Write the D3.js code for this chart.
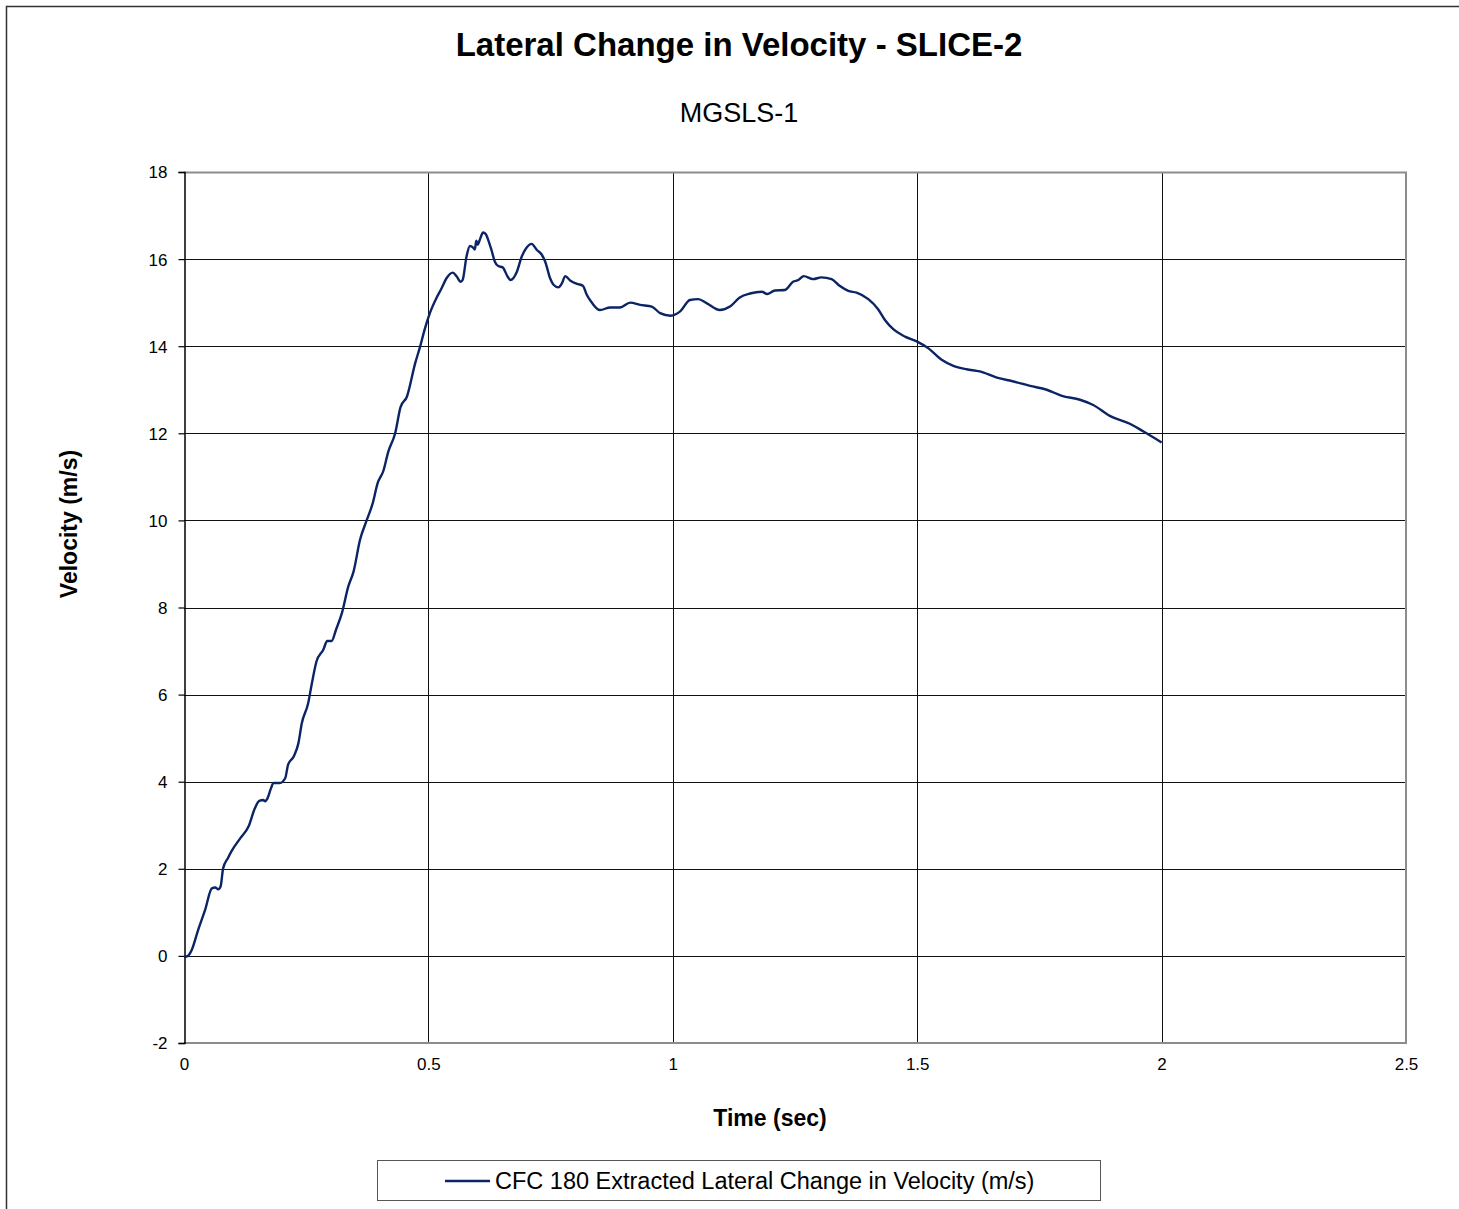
<!DOCTYPE html>
<html>
<head>
<meta charset="utf-8">
<script src="https://cdn.jsdelivr.net/npm/d3@7"></script>
<style>
  html, body { margin: 0; padding: 0; background: #fff; }
  svg { display: block; font-family: Arial, "Liberation Sans", sans-serif; }
</style>
</head>
<body>
<svg id="chart" width="1459" height="1209"></svg>
<script>
// Time (s) and lateral velocity change (m/s), CFC 180 filtered
const timeSec = [
  0.000, 0.002, 0.008, 0.016, 0.029, 0.043, 0.057, 0.064, 0.070, 0.075, 0.080, 0.090, 0.097,
  0.115, 0.132, 0.145, 0.154, 0.162, 0.166, 0.170, 0.178, 0.183, 0.196, 0.207, 0.213,
  0.225, 0.234, 0.241, 0.254, 0.261, 0.271, 0.285, 0.293, 0.302, 0.311, 0.323, 0.336,
  0.347, 0.360, 0.374, 0.386, 0.396, 0.408, 0.418, 0.432, 0.443, 0.456, 0.473, 0.483,
  0.493, 0.503, 0.517, 0.527, 0.537, 0.550, 0.558, 0.566, 0.570, 0.578, 0.585, 0.591,
  0.595, 0.598, 0.601, 0.605, 0.612, 0.617, 0.623, 0.629, 0.636, 0.643, 0.652, 0.662,
  0.668, 0.681, 0.691, 0.700, 0.711, 0.722, 0.732, 0.739, 0.749, 0.756, 0.766, 0.773,
  0.780, 0.790, 0.804, 0.816, 0.824, 0.835, 0.851, 0.872, 0.892, 0.913, 0.933, 0.957,
  0.974, 0.995, 1.007, 1.015, 1.035, 1.052, 1.069, 1.096, 1.117, 1.137, 1.158, 1.182,
  1.193, 1.209, 1.229, 1.246, 1.257, 1.268, 1.287, 1.304, 1.325, 1.342, 1.359, 1.376,
  1.400, 1.420, 1.434, 1.451, 1.475, 1.499, 1.523, 1.550, 1.574, 1.601, 1.628, 1.663,
  1.697, 1.731, 1.765, 1.796, 1.833, 1.860, 1.894, 1.935, 1.963, 2.000
];
const velocity = [
  -0.02, -0.02, 0.00, 0.14, 0.60, 1.05, 1.55, 1.57, 1.53, 1.60, 2.01, 2.25, 2.40,
  2.70, 2.97, 3.39, 3.56, 3.58, 3.55, 3.60, 3.85, 3.97, 3.97, 4.08, 4.39,
  4.59, 4.88, 5.34, 5.80, 6.22, 6.76, 7.03, 7.23, 7.23, 7.49, 7.87, 8.48,
  8.83, 9.55, 10.01, 10.39, 10.85, 11.14, 11.58, 12.00, 12.60, 12.84, 13.61, 13.99,
  14.41, 14.76, 15.12, 15.33, 15.56, 15.69, 15.60, 15.48, 15.52, 16.06, 16.30, 16.27,
  16.22, 16.42, 16.33, 16.44, 16.61, 16.58, 16.42, 16.21, 15.94, 15.84, 15.81, 15.60,
  15.52, 15.71, 16.06, 16.25, 16.35, 16.21, 16.10, 15.94, 15.56, 15.41, 15.35, 15.44,
  15.61, 15.51, 15.43, 15.39, 15.18, 14.99, 14.83, 14.89, 14.89, 15.00, 14.95, 14.91,
  14.76, 14.70, 14.74, 14.80, 15.06, 15.08, 14.99, 14.83, 14.91, 15.12, 15.21, 15.25,
  15.20, 15.28, 15.29, 15.48, 15.52, 15.61, 15.54, 15.58, 15.54, 15.38, 15.27, 15.23,
  15.08, 14.85, 14.60, 14.39, 14.22, 14.11, 13.95, 13.69, 13.55, 13.47, 13.42, 13.28,
  13.19, 13.09, 13.00, 12.86, 12.77, 12.65, 12.40, 12.22, 12.04, 11.79
];
const xTicks = [0, 0.5, 1, 1.5, 2, 2.5];
const xTickLabels = ["0", "0.5", "1", "1.5", "2", "2.5"];
const yTicks = [-2, 0, 2, 4, 6, 8, 10, 12, 14, 16, 18];
const yTickLabels = ["-2", "0", "2", "4", "6", "8", "10", "12", "14", "16", "18"];

const chartTitle = "Lateral Change in Velocity - SLICE-2";
const chartSubtitle = "MGSLS-1";
const xTitle = "Time (sec)";
const yTitle = "Velocity (m/s)";
const seriesName = "CFC 180 Extracted Lateral Change in Velocity (m/s)";
const lineColor = "#0a2464";

const svg = d3.select("#chart");

// outer chart border (continues past the right and bottom edges)
svg.append("rect")
  .attr("x", 6.5).attr("y", 6.5)
  .attr("width", 1470).attr("height", 1220)
  .attr("fill", "none").attr("stroke", "#333").attr("stroke-width", 1.5);

const plot = { left: 184, right: 1406, top: 172, bottom: 1043 };

const x = d3.scaleLinear().domain([0, 2.5]).range([plot.left, plot.right]);
const y = d3.scaleLinear().domain([-2, 18]).range([plot.bottom, plot.top]);

// gridlines
const grid = svg.append("g");
grid.selectAll("line.h").data(yTicks.filter(v => v > -2 && v < 18)).enter().append("line")
  .attr("x1", plot.left).attr("x2", plot.right)
  .attr("y1", d => Math.round(y(d)) + 0.5).attr("y2", d => Math.round(y(d)) + 0.5)
  .attr("stroke", "#111").attr("stroke-width", 1);
grid.selectAll("line.v").data(xTicks.filter(v => v > 0 && v < 2.5)).enter().append("line")
  .attr("y1", plot.top).attr("y2", plot.bottom)
  .attr("x1", d => Math.round(x(d)) + 0.5).attr("x2", d => Math.round(x(d)) + 0.5)
  .attr("stroke", "#111").attr("stroke-width", 1);

// plot frame (gray) on top, right, bottom
svg.append("path")
  .attr("d", `M${plot.left},${plot.top + 0.5} H${plot.right} V${plot.bottom} H${plot.left}`)
  .attr("fill", "none").attr("stroke", "#8c8c8c").attr("stroke-width", 2);

// y axis
const yAxis = d3.axisLeft(y).tickValues(yTicks).tickSize(6).tickPadding(11)
  .tickFormat((d, i) => yTickLabels[i]);
const yg = svg.append("g").attr("transform", `translate(${plot.left + 0.5},0)`).call(yAxis);
yg.select(".domain").attr("stroke", "#000").attr("stroke-width", 1.5);
yg.selectAll(".tick line").attr("stroke", "#000").attr("stroke-width", 1.2);
yg.selectAll(".tick text").attr("font-size", 17).attr("fill", "#000")
  .attr("font-family", "Arial, 'Liberation Sans', sans-serif").attr("dy", "0.35em");

// x axis labels (no tick marks)
const xAxis = d3.axisBottom(x).tickValues(xTicks).tickSize(0).tickPadding(15)
  .tickFormat((d, i) => xTickLabels[i]);
const xg = svg.append("g").attr("transform", `translate(0,${plot.bottom})`).call(xAxis);
xg.select(".domain").remove();
xg.selectAll(".tick text").attr("font-size", 17).attr("fill", "#000")
  .attr("font-family", "Arial, 'Liberation Sans', sans-serif");

// data line
const line = d3.line().x((d, i) => x(timeSec[i])).y(d => y(d)).curve(d3.curveMonotoneX);
svg.append("path")
  .datum(velocity)
  .attr("d", line)
  .attr("fill", "none").attr("stroke", lineColor).attr("stroke-width", 2.4)
  .attr("stroke-linejoin", "round");

// titles
svg.append("text").attr("x", 739).attr("y", 56).attr("text-anchor", "middle")
  .attr("font-size", 33).attr("font-weight", "bold").attr("fill", "#000").text(chartTitle);
svg.append("text").attr("x", 739).attr("y", 122).attr("text-anchor", "middle")
  .attr("font-size", 27).attr("fill", "#000").text(chartSubtitle);
svg.append("text").attr("x", 770).attr("y", 1126).attr("text-anchor", "middle")
  .attr("font-size", 23).attr("font-weight", "bold").attr("fill", "#000").text(xTitle);
svg.append("text").attr("transform", "translate(77,524) rotate(-90)").attr("text-anchor", "middle")
  .attr("font-size", 23).attr("font-weight", "bold").attr("fill", "#000").text(yTitle);

// legend
const legend = svg.append("g");
legend.append("rect").attr("x", 377.5).attr("y", 1160.5).attr("width", 723).attr("height", 40)
  .attr("fill", "#fff").attr("stroke", "#555").attr("stroke-width", 1);
legend.append("line").attr("x1", 445).attr("x2", 490).attr("y1", 1181).attr("y2", 1181)
  .attr("stroke", lineColor).attr("stroke-width", 2.4);
legend.append("text").attr("x", 495).attr("y", 1189).attr("font-size", 23.5).attr("fill", "#000")
  .text(seriesName);
</script>
</body>
</html>
